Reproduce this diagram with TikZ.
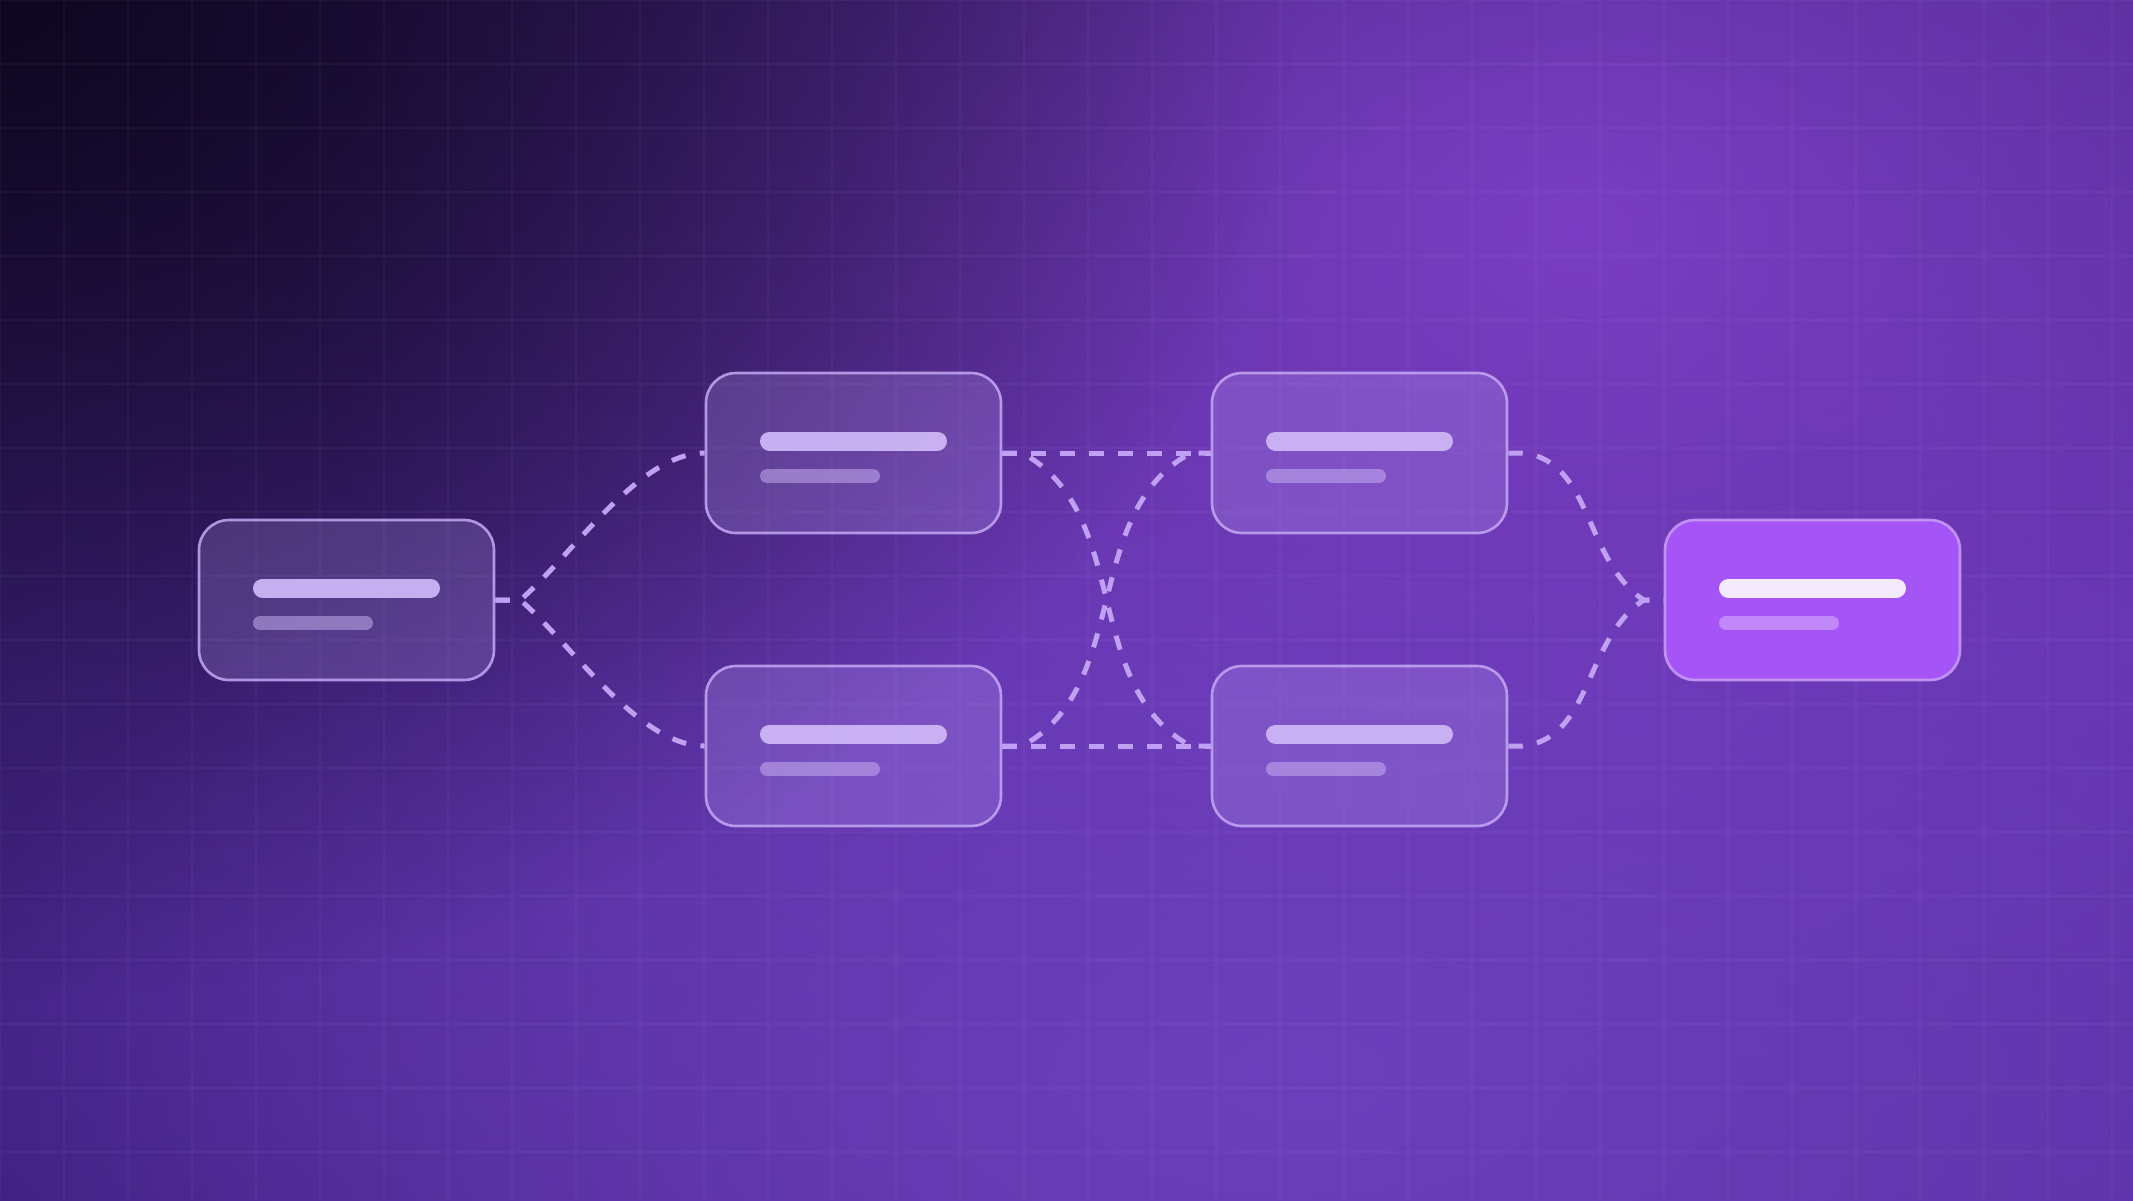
\documentclass[tikz,border=0pt]{standalone}
\usetikzlibrary{positioning, calc, fadings}

\definecolor{bgLeft}{HTML}{2C1668}
\definecolor{bgRight}{HTML}{4A2694}
\definecolor{bgDark}{HTML}{0E0720}
\definecolor{glowWide}{HTML}{6838B4}
\definecolor{glowTop}{HTML}{7A3EC4}
\definecolor{glowLow}{HTML}{6C40BC}
\definecolor{cardFill}{HTML}{CAB4FF}
\definecolor{cardLine}{HTML}{C4A8F4}
\definecolor{hotFill}{HTML}{A555F5}
\definecolor{hotLine}{HTML}{C99EF9}
\definecolor{barLav}{HTML}{CDB6F6}
\definecolor{linkLav}{HTML}{C0A0F2}

\tikzfading[name=glow, inner color=transparent!0, outer color=transparent!100]

\begin{document}
\begin{tikzpicture}[
	card/.style={rectangle, draw=cardLine, draw opacity=0.85, line width=0.75pt, rounded corners=0.3cm,
		minimum width=2.95cm, minimum height=1.6cm, fill=cardFill, fill opacity=0.2},
	cardHot/.style={card, fill=hotFill, fill opacity=1, draw=hotLine},
	barMain/.style={line width=0.19cm, line cap=round, draw=barLav, opacity=0.95},
	barSub/.style={line width=0.14cm, line cap=round, draw=barLav, opacity=0.5},
	link/.style={draw=linkLav, line width=0.05cm, dash pattern=on 0.145cm off 0.145cm},
	gridline/.style={draw=white, opacity=0.035, line width=0.3pt}
	]
		\useasboundingbox (-10.665,-6) rectangle (10.665,6);
		
		%Background
		\begin{scope}
		\clip (-10.665,-6) rectangle (10.665,6);
		\shade[left color=bgLeft, right color=bgRight] (-10.665,-6) rectangle (10.665,6);
		\fill[glowWide, path fading=glow] (2.84,0.3) ellipse (24 and 16);
		\fill[bgDark, path fading=glow, fill opacity=0.5] (-3,7) ellipse (30 and 8);
		\fill[glowTop, path fading=glow] (5.13,3.7) ellipse (13 and 9);
		\fill[glowLow, path fading=glow] (2.34,-4.8) ellipse (14 and 7);
		\fill[bgDark, path fading=glow] (-10.665,6) ellipse (13 and 10);
		\end{scope}
		\begin{scope}[shift={(-10.665,6)}]
		\draw[gridline, step=0.64cm] (0,-12) grid (21.33,0);
		\end{scope}
		
		%Cards
		\node (input) at (-7.2,0) [card]{};
		\node (topLeft) at (-2.13,1.47) [card]{};
		\node (bottomLeft) at (-2.13,-1.46) [card]{};
		\node (topRight) at (2.93,1.47) [card]{};
		\node (bottomRight) at (2.93,-1.46) [card]{};
		\node (output) at (7.46,0) [cardHot]{};
		
		\foreach \n in {input,topLeft,bottomLeft,topRight,bottomRight}{
			\draw[barMain] (\n.center) ++(-0.84,0.12) -- ++(1.68,0);
			\draw[barSub] (\n.center) ++(-0.865,-0.23) -- ++(1.06,0);
		}
		\draw[barMain, draw=white, opacity=0.88] (output.center) ++(-0.84,0.12) -- ++(1.68,0);
		\draw[barSub, draw=white, opacity=0.3] (output.center) ++(-0.865,-0.23) -- ++(1.06,0);
		
		%Links
		\draw[link] (input.east) -- ++(0.25,0) .. controls +(0.52,0.45) and +(-0.66,0) .. (topLeft.west);
		\draw[link] (input.east) -- ++(0.25,0) .. controls +(0.52,-0.45) and +(-0.66,0) .. (bottomLeft.west);
		\draw[link] (topLeft.east) -- (topRight.west);
		\draw[link] (bottomLeft.east) -- (bottomRight.west);
		\draw[link] (topLeft.east) -- ++(0.2,0) .. controls +(1.1,-0.6) and +(-1.1,0.6) .. ([xshift=-0.2cm]bottomRight.west) -- (bottomRight.west);
		\draw[link] (bottomLeft.east) -- ++(0.2,0) .. controls +(1.1,0.6) and +(-1.1,-0.6) .. ([xshift=-0.2cm]topRight.west) -- (topRight.west);
		\draw[link] (topRight.east) -- ++(0.14,0) .. controls +(0.7,-0.07) and +(-0.6,0.4) .. ([xshift=-0.2cm]output.west) -- (output.west);
		\draw[link] (bottomRight.east) -- ++(0.14,0) .. controls +(0.7,0.07) and +(-0.6,-0.4) .. ([xshift=-0.2cm]output.west) -- (output.west);
		
\end{tikzpicture}
\end{document}
